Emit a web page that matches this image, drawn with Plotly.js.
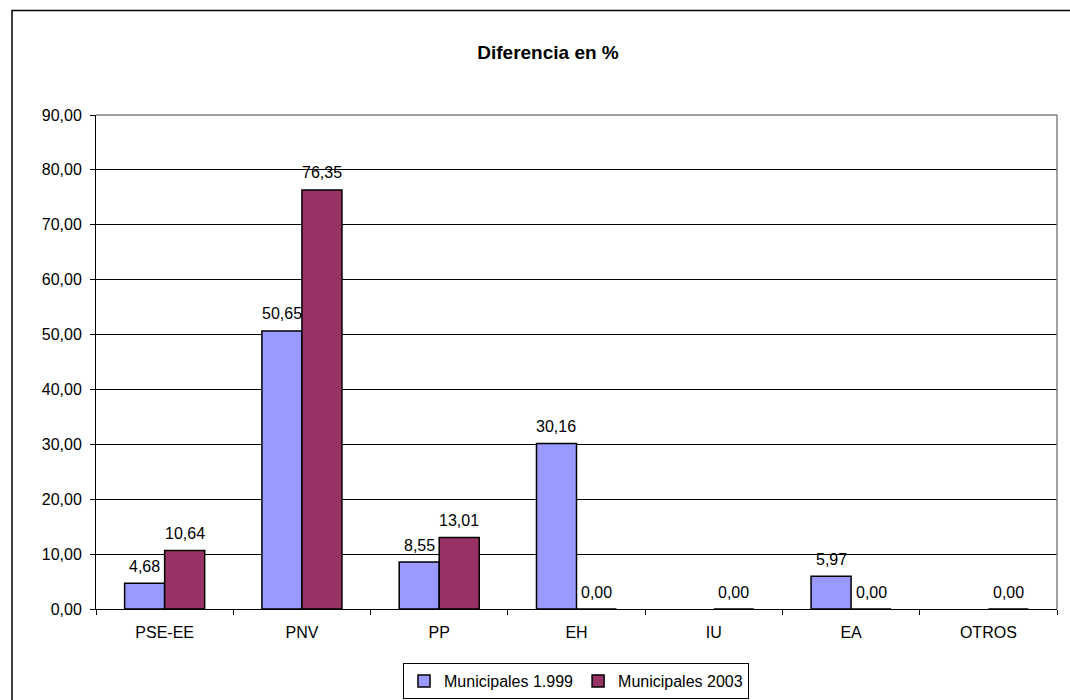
<!DOCTYPE html>
<html>
<head>
<meta charset="utf-8">
<script src="https://cdn.plot.ly/plotly-3.0.1.min.js"></script>
<style>
  html, body { margin: 0; padding: 0; background: #fff; }
  #chart { width: 1070px; height: 700px; }
</style>
</head>
<body>
<div id="chart"></div>
<script>
var categories = ["PSE-EE", "PNV", "PP", "EH", "IU", "EA", "OTROS"];
var series1Name = "Municipales 1.999";
var series2Name = "Municipales 2003";
var values1999 = [4.68, 50.65, 8.55, 30.16, null, 5.97, null];
var values2003 = [10.64, 76.35, 13.01, 0.00, 0.00, 0.00, 0.00];
var yTickVals = [0, 10, 20, 30, 40, 50, 60, 70, 80, 90];

var FONT = "Liberation Sans, Arial, sans-serif";
var FS = 16;
var W = 1070, H = 700;
var mL = 96, mR = 13, mT = 115, mB = 91;
var plotW = W - mL - mR, plotH = H - mT - mB;
var BARGAP = 0.417;
var barW = (plotW / categories.length) * (1 - BARGAP) / 2;

function fmt(v) { return v.toFixed(2).replace('.', ','); }

var traces = [
  { type: 'bar', name: series1Name, x: categories, y: values1999,
    marker: { color: '#9999FF', line: { color: '#000', width: 1.5 } }, hoverinfo: 'x+y' },
  { type: 'bar', name: series2Name, x: categories, y: values2003,
    marker: { color: '#993366', line: { color: '#000', width: 1.5 } }, hoverinfo: 'x+y' }
];

var annotations = [];
[[values1999, -1], [values2003, 1]].forEach(function (s) {
  s[0].forEach(function (v, i) {
    if (v === null) return;
    annotations.push({
      x: categories[i], y: v, xref: 'x', yref: 'y',
      text: fmt(v), showarrow: false,
      xshift: s[1] * barW / 2, yshift: 17,
      xanchor: 'center', yanchor: 'middle',
      font: { family: FONT, size: FS, color: '#000' }
    });
  });
});

var px = function (x) { return (x - mL) / plotW; };
var py = function (y) { return (H - mB - y) / plotH; };

var layout = {
  width: W, height: H,
  margin: { l: mL, r: mR, t: mT, b: mB, pad: 0, autoexpand: false },
  paper_bgcolor: '#fff', plot_bgcolor: '#fff',
  separators: ',.',
  font: { family: FONT, size: FS, color: '#000' },
  title: { text: '<b>Diferencia en %</b>', font: { family: FONT, size: 19, color: '#000' },
           x: 548 / W, xanchor: 'center', y: 1 - 52 / H, yanchor: 'middle' },
  barmode: 'group', bargap: BARGAP, bargroupgap: 0,
  showlegend: true,
  legend: { orientation: 'h', x: px(576), xanchor: 'center', y: py(681), yanchor: 'middle',
            bordercolor: '#000', borderwidth: 1, bgcolor: '#fff',
            font: { family: FONT, size: FS, color: '#000' },
            itemwidth: 30, tracegroupgap: 0 },
  xaxis: {
    type: 'category', showline: true, linecolor: '#000', linewidth: 1,
    ticks: 'outside', tickson: 'boundaries', ticklen: 5, tickcolor: '#000',
    showgrid: false, zeroline: false, automargin: false,
    tickfont: { family: FONT, size: FS, color: '#000' },
    ticklabelstandoff: 9,
    fixedrange: true
  },
  yaxis: {
    range: [0, 90], tickvals: yTickVals, tickformat: '.2f',
    showline: true, linecolor: '#000', linewidth: 1,
    ticks: 'outside', ticklen: 5, tickcolor: '#000',
    showgrid: true, gridcolor: '#000', gridwidth: 1, zeroline: false, automargin: false,
    tickfont: { family: FONT, size: FS, color: '#000' },
    ticklabelstandoff: 5,
    fixedrange: true
  },
  shapes: [
    { type: 'line', xref: 'paper', yref: 'paper', x0: 0, x1: 1, y0: 1, y1: 1,
      line: { color: '#808080', width: 1.5 }, layer: 'above' },
    { type: 'line', xref: 'paper', yref: 'paper', x0: 1, x1: 1, y0: 0, y1: 1,
      line: { color: '#808080', width: 1.5 }, layer: 'above' },
    { type: 'rect', xref: 'paper', yref: 'paper',
      x0: px(12), x1: px(1090), y0: py(720), y1: py(10.5),
      line: { color: '#000', width: 1.5 }, fillcolor: 'rgba(0,0,0,0)', layer: 'above' }
  ],
  annotations: annotations
};

Plotly.newPlot('chart', traces, layout, { displayModeBar: false, staticPlot: true });
</script>
</body>
</html>
